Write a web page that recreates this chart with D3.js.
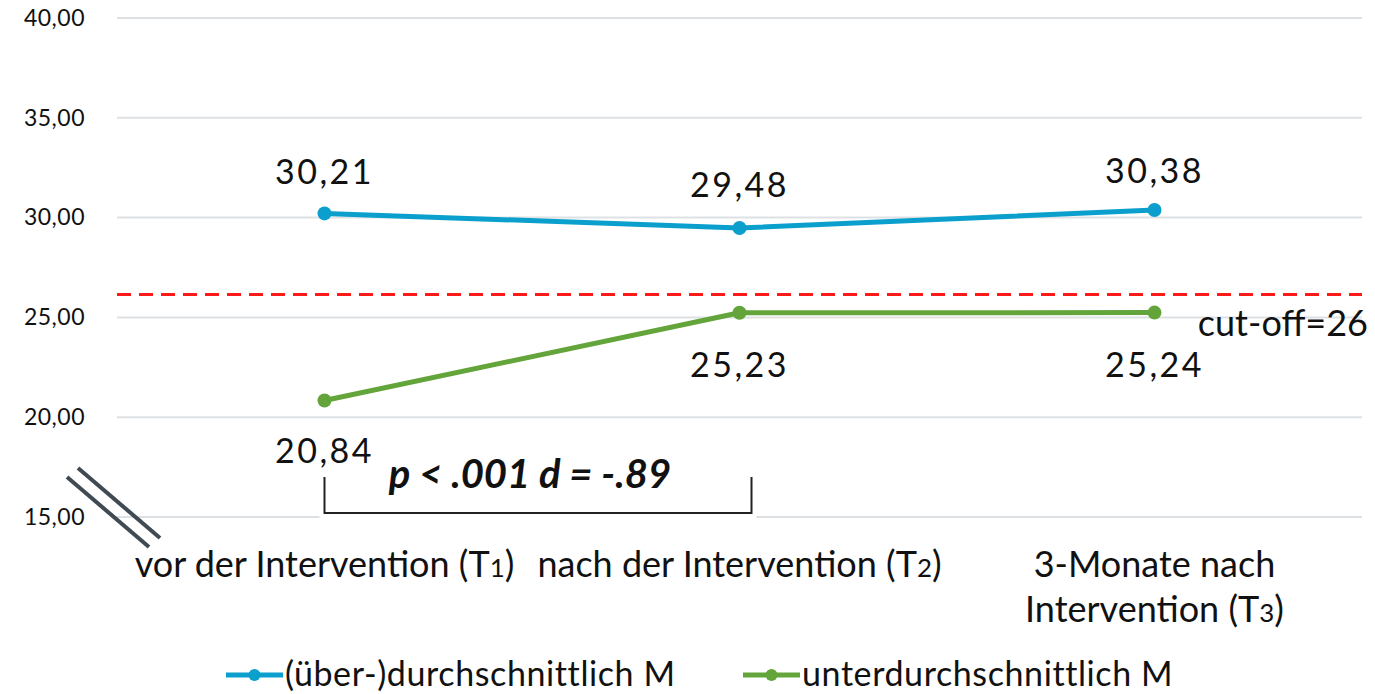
<!DOCTYPE html>
<html>
<head>
<meta charset="utf-8">
<script src="https://cdn.jsdelivr.net/npm/d3@7"></script>
<style>
  html, body { margin: 0; padding: 0; background: #fff; }
  svg { display: block; font-family: Lato, "Open Sans", sans-serif; }
</style>
</head>
<body>
<svg id="chart" width="1375" height="694"></svg>
<script>
// ---- data ----
const categories = ["vor der Intervention (T1)", "nach der Intervention (T2)", "3-Monate nach Intervention (T3)"];
const categoryLines = [["vor der Intervention (T1)"], ["nach der Intervention (T2)"], ["3-Monate nach", "Intervention (T3)"]];
const seriesNames = ["(über-)durchschnittlich M", "unterdurchschnittlich M"];
const aboveValues = [30.21, 29.48, 30.38];
const belowValues = [20.84, 25.23, 25.24];
const yTicks = [15, 20, 25, 30, 35, 40];
const cutoffLabel = "cut-off=26";
const cutoffValue = 26.15;
const annotationText = "p < .001 d = -.89";
const colors = ["#0A9FCC", "#63A53A"];

const svg = d3.select("#chart");
const margin = { left: 117, right: 13 };
const W = 1375;

const x = d3.scalePoint().domain(categories).range([margin.left, W - margin.right]).padding(0.5);
const y = d3.scaleLinear().domain([15, 40]).range([517, 18]);

const fmt = v => v.toFixed(2).replace(".", ",");

// render text with the trailing T-index digit set smaller (old-style look)
function richText(sel, str) {
  const m = str.match(/^(.*\(T)(\d)(\).*)$/);
  if (!m) { sel.append("tspan").text(str); return; }
  sel.append("tspan").text(m[1]);
  sel.append("tspan").attr("font-size", "0.72em").text(m[2]);
  sel.append("tspan").text(m[3]);
}

// gridlines
svg.append("g").selectAll("line").data(yTicks).join("line")
  .attr("x1", margin.left).attr("x2", W - margin.right)
  .attr("y1", d => y(d)).attr("y2", d => y(d))
  .attr("stroke", "#DEE1E4").attr("stroke-width", 2);

// y axis labels
const yAxis = d3.axisLeft(y).tickValues(yTicks).tickFormat(fmt).tickSize(0).tickPadding(0);
const yg = svg.append("g").attr("transform", "translate(85,0)").call(yAxis);
yg.select(".domain").remove();
yg.selectAll("text").attr("font-size", 23).attr("fill", "#111")
  .attr("font-family", "Lato, sans-serif").attr("letter-spacing", 0.5);

// break marks
const breaks = [[[67, 477], [149, 547]], [[78, 468], [160, 538]]];
svg.append("g").selectAll("line").data(breaks).join("line")
  .attr("x1", d => d[0][0]).attr("y1", d => d[0][1])
  .attr("x2", d => d[1][0]).attr("y2", d => d[1][1])
  .attr("stroke", "#3F4A52").attr("stroke-width", 4);

// cutoff
svg.append("line")
  .attr("x1", margin.left).attr("x2", W - margin.right)
  .attr("y1", y(cutoffValue)).attr("y2", y(cutoffValue))
  .attr("stroke", "#FF1A1A").attr("stroke-width", 3).attr("stroke-dasharray", "14,8");
svg.append("text").attr("x", 1368).attr("y", 336).attr("text-anchor", "end")
  .attr("font-size", 36).attr("fill", "#111").text(cutoffLabel);

// lines
const line = d3.line().x((d, i) => x(categories[i])).y(d => y(d));
[aboveValues, belowValues].forEach((vals, si) => {
  svg.append("path").datum(vals).attr("d", line)
    .attr("fill", "none").attr("stroke", colors[si]).attr("stroke-width", 5).attr("stroke-linejoin", "round");
  svg.append("g").selectAll("circle").data(vals).join("circle")
    .attr("cx", (d, i) => x(categories[i])).attr("cy", d => y(d)).attr("r", 7).attr("fill", colors[si]);
});

// data labels
const aboveOffsets = [-29, -31, -27];
svg.append("g").selectAll("text").data(aboveValues).join("text")
  .attr("x", (d, i) => x(categories[i])).attr("y", (d, i) => y(d) + aboveOffsets[i])
  .attr("text-anchor", "middle").attr("font-size", 34).attr("letter-spacing", 2.5).attr("fill", "#111").text(fmt);
const belowOffsets = [63, 64, 64];
svg.append("g").selectAll("text").data(belowValues).join("text")
  .attr("x", (d, i) => x(categories[i])).attr("y", (d, i) => y(d) + belowOffsets[i])
  .attr("text-anchor", "middle").attr("font-size", 34).attr("letter-spacing", 2.5).attr("fill", "#111").text(fmt);

// bracket annotation
const bx1 = x(categories[0]), bx2 = x(categories[1]) + 12;
svg.append("rect").attr("x", bx1 - 5).attr("y", 514).attr("width", bx2 - bx1 + 10).attr("height", 6).attr("fill", "#fff");
svg.append("path")
  .attr("d", `M${bx1},477 V513 H${bx2} V477`)
  .attr("fill", "none").attr("stroke", "#222").attr("stroke-width", 2);
svg.append("text").attr("x", 530).attr("y", 488).attr("text-anchor", "middle")
  .attr("font-size", 40).attr("font-weight", "bold").attr("font-style", "italic").attr("fill", "#111")
  .text(annotationText);

// x labels
const xl = svg.append("g");
categories.forEach((c, i) => {
  categoryLines[i].forEach((ln, j) => {
    const t = xl.append("text").attr("x", x(c)).attr("y", 577 + j * 45).attr("text-anchor", "middle")
      .attr("font-size", 36).attr("fill", "#111");
    richText(t, ln);
  });
});

// legend
const legendX = [226, 743];
seriesNames.forEach((name, i) => {
  const g = svg.append("g").attr("transform", `translate(${legendX[i]},675)`);
  g.append("line").attr("x1", 0).attr("x2", 57).attr("y1", 0).attr("y2", 0)
    .attr("stroke", colors[i]).attr("stroke-width", 5);
  g.append("circle").attr("cx", 28.5).attr("cy", 0).attr("r", 6).attr("fill", colors[i]);
  g.append("text").attr("x", 59).attr("y", 11).attr("font-size", 34).attr("letter-spacing", 0.6)
    .attr("fill", "#111").text(name);
});
</script>
</body>
</html>
